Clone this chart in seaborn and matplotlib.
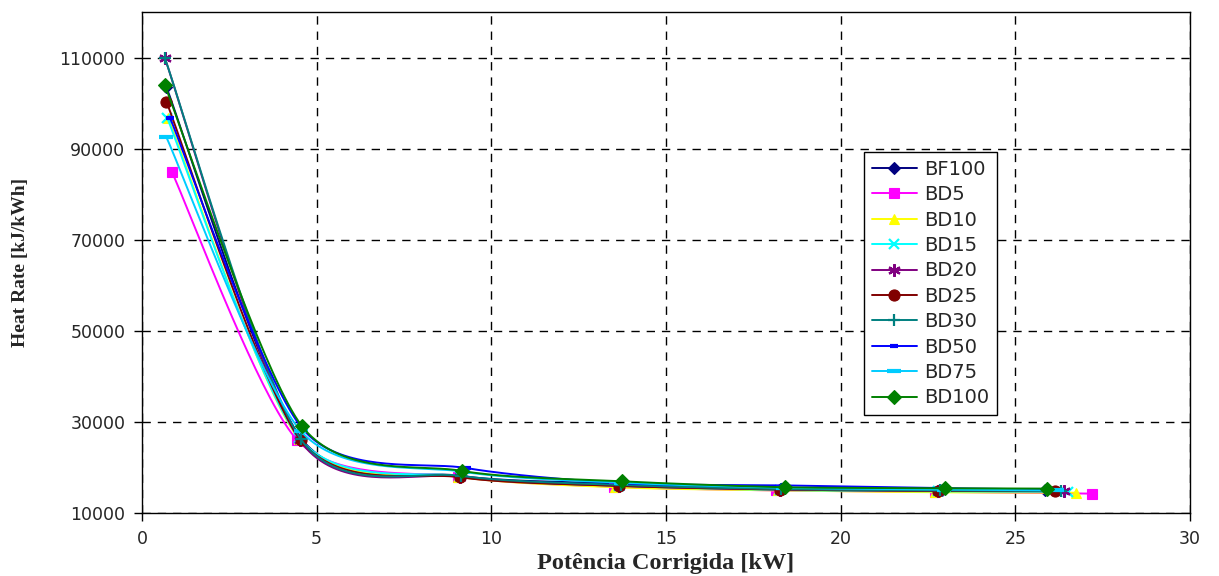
import numpy as np
import pandas as pd
import matplotlib
matplotlib.use("Agg")
import matplotlib.pyplot as plt
from matplotlib.lines import Line2D
import seaborn as sns

# ---- data -------------------------------------------------------------
series_names = ["BF100", "BD5", "BD10", "BD15", "BD20",
                "BD25", "BD30", "BD50", "BD75", "BD100"]

x_BF100 = [0.70, 4.55, 9.12, 13.70, 18.30, 22.90, 25.85]
x_BD5   = [0.85, 4.45, 9.05, 13.50, 18.15, 22.70, 27.20]
x_BD10  = [0.75, 4.50, 9.05, 13.55, 18.20, 22.70, 26.75]
x_BD15  = [0.72, 4.50, 9.10, 13.65, 18.25, 22.80, 26.50]
x_BD20  = [0.65, 4.52, 9.10, 13.65, 18.25, 22.80, 26.40]
x_BD25  = [0.70, 4.55, 9.10, 13.65, 18.25, 22.80, 26.15]
x_BD30  = [0.65, 4.55, 9.12, 13.70, 18.30, 22.85, 26.30]
x_BD50  = [0.80, 4.60, 9.30, 13.75, 18.40, 23.00, 26.00]
x_BD75  = [0.70, 4.55, 9.20, 13.70, 18.35, 22.95, 26.20]
x_BD100 = [0.65, 4.57, 9.15, 13.75, 18.40, 23.00, 25.90]

y_BF100 = [103500, 26500, 18200, 16500, 15300, 15000, 15000]
y_BD5   = [85000, 26000, 18000, 15800, 15000, 14700, 14300]
y_BD10  = [96800, 26200, 18000, 15700, 15000, 14600, 14500]
y_BD15  = [96800, 26500, 18100, 16000, 15100, 14800, 14700]
y_BD20  = [110000, 26000, 18000, 16000, 15200, 14900, 14800]
y_BD25  = [100300, 26000, 17900, 16000, 15200, 14900, 14900]
y_BD30  = [110000, 26200, 18200, 16200, 15300, 15000, 14900]
y_BD50  = [96800, 28500, 19900, 16600, 16100, 15500, 15200]
y_BD75  = [92500, 28000, 19100, 16700, 15600, 15200, 15000]
y_BD100 = [104000, 29200, 19300, 17000, 15700, 15500, 15400]

x_ticks = [0, 5, 10, 15, 20, 25, 30]
y_ticks = [10000, 30000, 50000, 70000, 90000, 110000]

xs = [x_BF100, x_BD5, x_BD10, x_BD15, x_BD20, x_BD25, x_BD30, x_BD50, x_BD75, x_BD100]
ys = [y_BF100, y_BD5, y_BD10, y_BD15, y_BD20, y_BD25, y_BD30, y_BD50, y_BD75, y_BD100]

# ---- styles -----------------------------------------------------------
colors = ["#000080", "#FF00FF", "#FFFF00", "#00FFFF", "#800080",
          "#800000", "#008080", "#0000FF", "#00CCFF", "#008000"]
markers = ["D", "s", "^", "x", (6, 2, 0), "o", "+", "_", "_", "D"]
msizes = [6, 7, 7, 7, 9, 8, 8, 6, 10, 7]

sns.set_style("white")
plt.rcParams["font.family"] = ["DejaVu Sans"]

XMIN, XMAX, YMIN, YMAX = 0, 30, 10000, 120000
fig = plt.figure(figsize=(12.19, 5.76), dpi=100)
ax = fig.add_axes([0.1165, 0.109, 0.8597, 0.870])
W_PX, H_PX = 1048, 501
TENSION = 0.8


def smooth(x, y, n=40):
    """Cardinal-spline smoothing computed in screen space."""
    px = (np.asarray(x) - XMIN) / (XMAX - XMIN) * W_PX
    py = (np.asarray(y) - YMIN) / (YMAX - YMIN) * H_PX
    P = np.column_stack([px, py])
    m = len(P)
    T = np.zeros_like(P)
    for i in range(m):
        a = P[max(i - 1, 0)]
        b = P[min(i + 1, m - 1)]
        T[i] = TENSION * 0.5 * (b - a)
    t = np.linspace(0, 1, n)[:, None]
    h00 = 2 * t ** 3 - 3 * t ** 2 + 1
    h10 = t ** 3 - 2 * t ** 2 + t
    h01 = -2 * t ** 3 + 3 * t ** 2
    h11 = t ** 3 - t ** 2
    out = []
    for i in range(m - 1):
        seg = h00 * P[i] + h10 * T[i] + h01 * P[i + 1] + h11 * T[i + 1]
        out.append(seg if i == 0 else seg[1:])
    out = np.vstack(out)
    sx = out[:, 0] / W_PX * (XMAX - XMIN) + XMIN
    sy = out[:, 1] / H_PX * (YMAX - YMIN) + YMIN
    return sx, sy


handles = []
for name, x, y, c, m, ms in zip(series_names, xs, ys, colors, markers, msizes):
    sx, sy = smooth(x, y)
    curve = pd.DataFrame({"x": sx, "y": sy})
    sns.lineplot(data=curve, x="x", y="y", sort=False, estimator=None,
                 color=c, lw=1.4, ax=ax, legend=False)
    mew = 1.6 if m in ("x", "+", (6, 2, 0)) else 0.8
    if m == "_":
        mew = 3
    ax.plot(x, y, linestyle="none", marker=m, color=c, markersize=ms,
            markeredgecolor=c, markeredgewidth=mew)
    handles.append(Line2D([0], [0], color=c, lw=1.4, marker=m, markersize=ms,
                          markeredgecolor=c, markeredgewidth=mew, label=name))

ax.set_xlim(XMIN, XMAX)
ax.set_ylim(YMIN, YMAX)
ax.set_xticks(x_ticks)
ax.set_yticks(y_ticks)
ax.set_xticklabels([str(v) for v in x_ticks], fontsize=12.5)
ax.set_yticklabels([str(v) for v in y_ticks], fontsize=12.5)
ax.tick_params(axis="both", direction="out", length=6, width=1, color="black",
               pad=6, left=True, bottom=True)

ax.grid(True, color="black", linestyle=(0, (6, 5)), linewidth=1)
for s in ax.spines.values():
    s.set_color("black")
    s.set_linewidth(1)

ax.set_xlabel("Potência Corrigida [kW]", fontsize=17.5, fontweight="bold",
              family=["Liberation Serif", "DejaVu Serif"], labelpad=4)
ax.set_ylabel("Heat Rate [kJ/kWh]", fontsize=14, fontweight="bold",
              family=["Liberation Serif", "DejaVu Serif"], labelpad=22)

leg = ax.legend(handles=handles, loc="upper left",
                bbox_to_anchor=(0.689, 0.721), fontsize=14,
                frameon=True, fancybox=False, framealpha=1,
                edgecolor="black", handlelength=2.3, labelspacing=0.33,
                borderpad=0.4, handletextpad=0.4, borderaxespad=0)
leg.get_frame().set_linewidth(1)

fig.savefig("out.png", dpi=100)
